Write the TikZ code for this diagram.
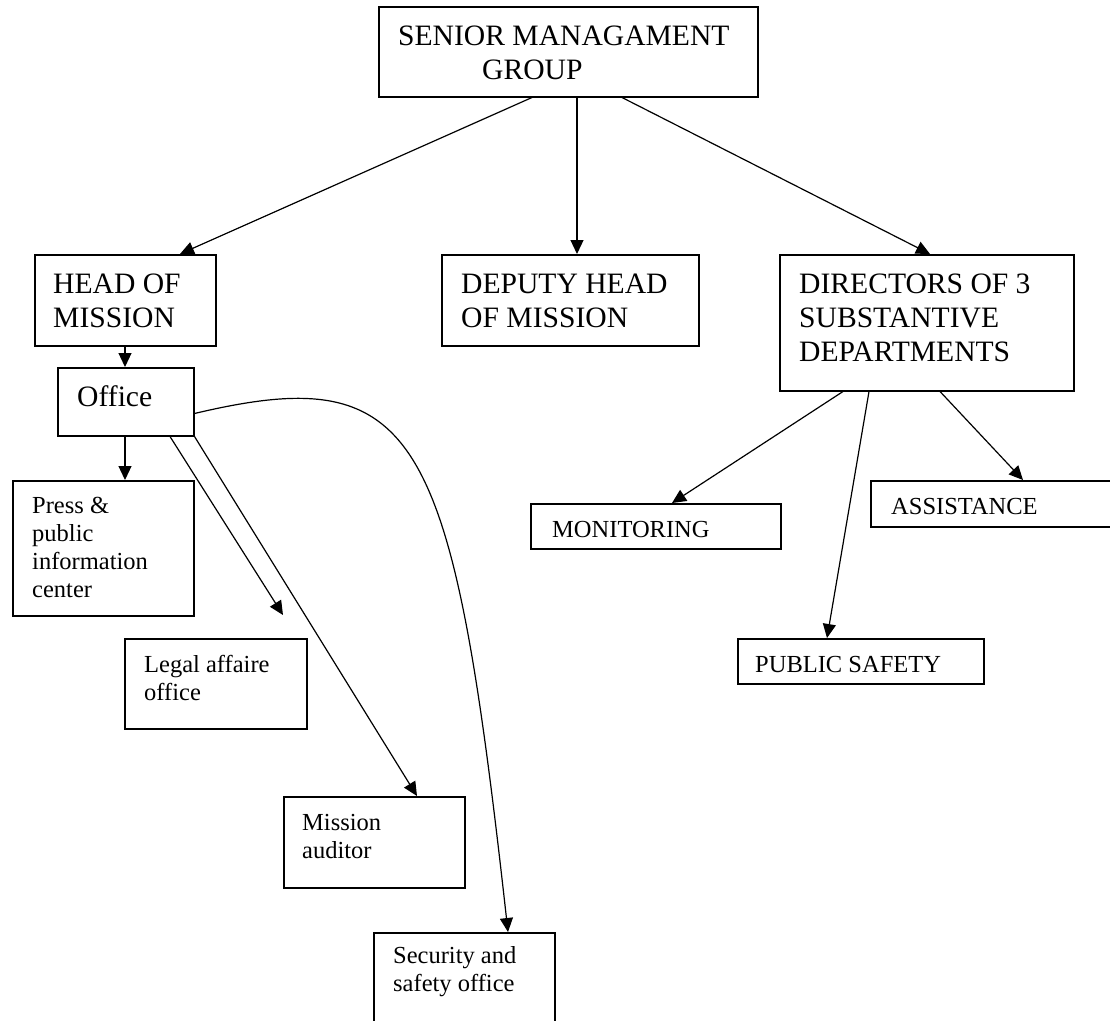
\documentclass[tikz,border=0pt]{standalone}
\usepackage{fontspec}
\setmainfont{Liberation Serif}
\usetikzlibrary{arrows.meta,calc}
\begin{document}
\begin{tikzpicture}[x=1pt,y=-1pt,
  box/.style={draw, line width=1.5pt, anchor=north west, inner sep=0pt},
  big/.style={anchor=base west, inner sep=0pt, font=\fontsize{29.6pt}{34pt}\selectfont},
  small/.style={anchor=base west, inner sep=0pt, font=\fontsize{24.5pt}{28.3pt}\selectfont},
  conn/.style={line width=1.2pt, -{Triangle[length=14pt,width=13pt]}}]
\clip (0,0) rectangle (1110,1020);
\fill[white] (0,0) rectangle (1110,1020);
% boxes
\node[box, minimum width=379pt, minimum height=90pt] (senior) at (378,6) {};
\node[box, minimum width=181pt, minimum height=91pt] (hom) at (34,254) {};
\node[box, minimum width=257pt, minimum height=91pt] (deputy) at (441,254) {};
\node[box, minimum width=294pt, minimum height=136pt] (dir) at (779,254) {};
\node[box, minimum width=136pt, minimum height=68pt] (office) at (57,367) {};
\node[box, minimum width=181pt, minimum height=135pt] (press) at (12,480) {};
\node[box, minimum width=182pt, minimum height=90pt] (legal) at (124,638) {};
\node[box, minimum width=181pt, minimum height=91pt] (mission) at (283,796) {};
\node[box, minimum width=181pt, minimum height=120pt] (sec) at (373,932) {};
\node[box, minimum width=250pt, minimum height=45pt] (mon) at (530,503) {};
\node[box, minimum width=260pt, minimum height=46pt] (assist) at (870,480) {};
\node[box, minimum width=246pt, minimum height=45pt] (ps) at (737,638) {};
% texts
\node[big] (seniorT) at (398,45) {\vtop{\hbox{SENIOR MANAGAMENT}\hbox{\kern84pt GROUP}}};
\node[big] (homT) at (53,293) {\vtop{\hbox{HEAD OF}\hbox{MISSION}}};
\node[big] (deputyT) at (461,293) {\vtop{\hbox{DEPUTY HEAD}\hbox{OF MISSION}}};
\node[big] (dirT) at (799,293) {\vtop{\hbox{DIRECTORS OF 3}\hbox{SUBSTANTIVE}\hbox{DEPARTMENTS}}};
\node[big] (officeT) at (77,406) {Office};
\node[small] (pressT) at (32,513) {\vtop{\hbox{Press \&}\hbox{public}\hbox{information}\hbox{center}}};
\node[small] (legalT) at (144,672) {\vtop{\hbox{Legal affaire}\hbox{office}}};
\node[small] (missionT) at (302,830) {\vtop{\hbox{Mission}\hbox{auditor}}};
\node[small] (secT) at (393,963) {\vtop{\hbox{Security and}\hbox{safety office}}};
\node[small] (monT) at (552,537) {MONITORING};
\node[small] (assistT) at (891,514) {ASSISTANCE};
\node[small] (psT) at (755,672) {PUBLIC SAFETY};
% connectors
\draw[conn] ($(senior.south west)+(154,0)$) -- ($(hom.north west)+(146,0)$);
\draw[conn] ($(senior.south west)+(199,0)$) -- ($(deputy.north west)+(136,0)$);
\draw[conn] ($(senior.south west)+(244,0)$) -- ($(dir.north west)+(151,0)$);
\draw[conn] ($(hom.south west)+(91,0)$) -- ($(office.north west)+(68,0)$);
\draw[conn] ($(office.south west)+(68,0)$) -- ($(press.north west)+(113,0)$);
\coordinate (legalTip) at ($(legal.north west)+(159,-23)$);
\draw[conn] ($(office.south west)+(113,0)$) -- (legalTip);
\draw[conn] (office.south east) -- ($(mission.north west)+(134,0)$);
\draw[conn] ($(office.south east)+(0,-23)$) .. controls (420,360) and (452,430) .. ($(sec.north west)+(135,0)$);
\draw[conn] ($(dir.south west)+(64,0)$) -- ($(mon.north west)+(142,0)$);
\draw[conn] ($(dir.south west)+(90,0)$) -- ($(ps.north west)+(90,0)$);
\draw[conn] ($(dir.south west)+(161,0)$) -- ($(assist.north west)+(153,0)$);
\end{tikzpicture}
\end{document}
